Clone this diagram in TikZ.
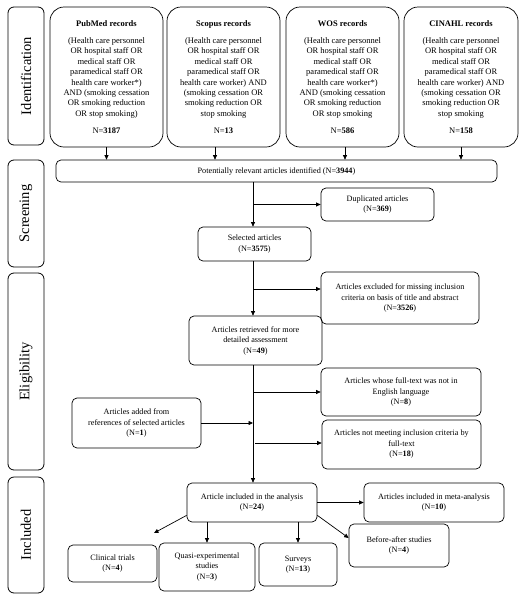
\documentclass[tikz,border=0pt]{standalone}
\usepackage{fontspec}
\setmainfont{Liberation Serif}
\usetikzlibrary{arrows.meta}
\begin{document}
\begin{tikzpicture}[x=1pt,y=-1pt,
  side/.style={draw,line width=0.8pt,rounded corners=6pt,rotate=90,minimum height=36pt,inner sep=0pt,font=\fontsize{14.5}{16}\selectfont},
  src/.style={draw,line width=0.7pt,rounded corners=14pt,minimum height=140pt,inner sep=0pt,align=center,font=\fontsize{8.5}{10.4}\selectfont},
  box/.style={draw,line width=0.7pt,rounded corners=5pt,inner sep=0pt,align=center,font=\fontsize{8.2}{10.5}\selectfont},
  arr/.style={line width=0.7pt,-{Triangle[length=4.5pt,width=4pt]}},
  ln/.style={line width=0.7pt}]
\useasboundingbox (0,0) rectangle (525,600);
% side labels
\node[side,minimum width=138pt] (sid) at (26,76) {Identification};
\node[side,minimum width=107pt] (ssc) at (26,213.5) {Screening};
\node[side,minimum width=197pt] (sel2) at (26,371.5) {Eligibility};
\node[side,minimum width=116pt] (sin) at (26,535) {Included};
% sources
\node[src,minimum width=113pt] (pubmed) at (106.5,77) {\textbf{PubMed records}\\[7pt]
(Health care personnel\\OR hospital staff OR\\medical staff OR\\paramedical staff OR\\health care worker*)\\AND (smoking cessation\\OR smoking reduction\\OR stop smoking)\\[7pt]N=\textbf{3187}};
\node[src,minimum width=113pt] (scopus) at (223.5,77) {\textbf{Scopus records}\\[7pt]
(Health care personnel\\OR hospital staff OR\\medical staff OR\\paramedical staff OR\\health care worker) AND\\(smoking cessation OR\\smoking reduction OR\\stop smoking\\[7pt]N=\textbf{13}};
\node[src,minimum width=113pt] (wos) at (342.5,77) {\textbf{WOS records}\\[7pt]
(Health care personnel\\OR hospital staff OR\\medical staff OR\\paramedical staff OR\\health care worker*)\\AND (smoking cessation\\OR smoking reduction\\OR stop smoking\\[7pt]N=\textbf{586}};
\node[src,minimum width=114pt] (cinahl) at (461,77) {\textbf{CINAHL records}\\[7pt]
(Health care personnel\\OR hospital staff OR\\medical staff OR\\paramedical staff OR\\health care worker) AND\\(smoking cessation OR\\smoking reduction OR\\stop smoking\\[7pt]N=\textbf{158}};
% flow boxes
\node[box,minimum width=441pt,minimum height=22pt] (pot) at (276.5,171) {Potentially relevant articles identified (N=\textbf{3944})};
\node[box,minimum width=113pt,minimum height=33pt] (dup) at (377.5,204.5) {Duplicated articles\\(N=\textbf{369})};
\node[box,minimum width=113pt,minimum height=34pt] (sel) at (254.5,244) {Selected articles\\(N=\textbf{3575})};
\node[box,minimum width=158pt,minimum height=52pt] (excl) at (400,298) {Articles excluded for missing inclusion\\criteria on basis of title and abstract\\(N=\textbf{3526})};
\node[box,minimum width=133pt,minimum height=49pt] (ret) at (255.5,340.5) {Articles retrieved for more\\detailed assessment\\(N=\textbf{49})};
\node[box,minimum width=160pt,minimum height=48pt] (noteng) at (401,392) {Articles whose full-text was not in\\English language\\(N=\textbf{8})};
\node[box,minimum width=129pt,minimum height=50pt] (added) at (136.5,423) {Articles added from\\references of selected articles\\(N=\textbf{1})};
\node[box,minimum width=159pt,minimum height=49pt] (notmeet) at (401.5,444.5) {Articles not meeting inclusion criteria by\\full-text\\(N=\textbf{18})};
\node[box,minimum width=130pt,minimum height=39pt] (inc) at (252,502.5) {Article included in the analysis\\(N=\textbf{24})};
\node[box,minimum width=140pt,minimum height=39pt] (meta) at (434,502.5) {Articles included in meta-analysis\\(N=\textbf{10})};
\node[box,minimum width=89pt,minimum height=37pt] (clin) at (112.5,563.5) {Clinical trials\\(N=\textbf{4})};
\node[box,minimum width=96pt,minimum height=48pt] (quasi) at (207,567) {Quasi-experimental\\studies\\(N=\textbf{3})};
\node[box,minimum width=78pt,minimum height=43pt] (surv) at (298,564.5) {Surveys\\(N=\textbf{13})};
\node[box,minimum width=100pt,minimum height=43pt] (before) at (399,545.5) {Before-after studies\\(N=\textbf{4})};
% connectors
\draw[arr] (pubmed.south) -- (pubmed.south |- pot.north);
\draw[arr] ([xshift=-8.5pt]scopus.south) -- ([xshift=-8.5pt]scopus.south |- pot.north);
\draw[arr] ([xshift=2.5pt]wos.south) -- ([xshift=2.5pt]wos.south |- pot.north);
\draw[arr] (cinahl.south) -- (cinahl.south |- pot.north);
\coordinate (m1) at (253,182);
\draw[arr] (m1) -- (m1 |- sel.north);
\coordinate (b1) at (253,204.5);
\draw[arr] (b1) -- (b1 -| dup.west);
\coordinate (m2) at (253,261);
\draw[arr] (m2) -- (m2 |- ret.north);
\coordinate (b2) at (253,289);
\draw[arr] (b2) -- (b2 -| excl.west);
\coordinate (m3) at (253,365);
\draw[arr] (m3) -- (m3 |- inc.north);
\coordinate (b3) at (253,392);
\draw[arr] (b3) -- (b3 -| noteng.west);
\draw[arr] (added.east) -- (added.east -| m3);
\coordinate (b4) at (255,443);
\draw[arr] (b4) -- (b4 -| notmeet.west);
\draw[arr] (inc.east) -- (inc.east -| meta.west);
\coordinate (c1) at (154,533);
\draw[arr] ([yshift=7pt]inc.south west) -- (c1);
\draw[arr] (inc.south -| quasi.north) -- (quasi.north);
\draw[arr] (inc.south -| surv.north) -- (surv.north);
\draw[arr] ([yshift=7pt]inc.south east) -- ([yshift=7.5pt]before.west);
\end{tikzpicture}
\end{document}
